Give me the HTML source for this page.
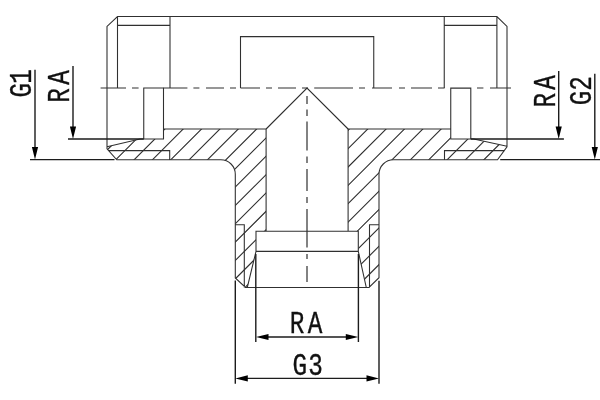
<!DOCTYPE html>
<html><head><meta charset="utf-8"><title>Drawing</title>
<style>
html,body{margin:0;padding:0;background:#fff;}
body{width:600px;height:400px;overflow:hidden;}
svg{display:block;}
text{font-family:"Liberation Mono","DejaVu Sans Mono",monospace;font-size:30.8px;fill:#111;stroke:#111;stroke-width:0.35px;}
</style></head><body>
<svg width="600" height="400" viewBox="0 0 600 400">
<rect width="600" height="400" fill="#fff"/>
<defs><clipPath id="hl"><path d="M107.0,146.7 L140,139.0 L163.5,139.0 L163.5,129.0 L266.1,129.0 L266.1,231.2 L256.0,231.2 L256.0,251.4 L247.3,287.5 L245.5,287.5 L235.3,278 L235.3,174.25 A14.5,14.5 0 0 0 220.8,159.75 L116.75,159.75 L107.0,148.8 Z"/></clipPath><clipPath id="hr"><path d="M507.0,146.2 L473.7,139.0 L450.75,139.0 L450.75,129.0 L348.1,129.0 L348.1,231.2 L358.3,231.2 L358.3,251.4 L366.3,287.5 L369,287.5 L379.0,277.7 L379.0,174.25 A14.5,14.5 0 0 1 393.5,159.75 L497.5,159.75 L507.0,146.8 Z"/></clipPath></defs>
<g fill="none" stroke="#303030" stroke-width="1.08">
<path clip-path="url(#hl)" d="M-61.21,300 L118.79,120 M-42.86,300 L137.14,120 M-24.50,300 L155.50,120 M-6.14,300 L173.86,120 M12.21,300 L192.21,120 M30.56,300 L210.56,120 M48.92,300 L228.92,120 M67.27,300 L247.27,120 M85.63,300 L265.63,120 M103.99,300 L283.99,120 M122.34,300 L302.34,120 M140.69,300 L320.69,120 M159.05,300 L339.05,120 M177.40,300 L357.40,120 M195.76,300 L375.76,120 M214.12,300 L394.12,120 M232.47,300 L412.47,120 M250.83,300 L430.83,120 M269.18,300 L449.18,120 M287.54,300 L467.54,120 M305.89,300 L485.89,120 M324.25,300 L504.25,120 M342.60,300 L522.60,120 M360.95,300 L540.95,120 M379.31,300 L559.31,120 M397.66,300 L577.66,120" stroke-width="1.1" stroke="#2e2e2e"/>
<path clip-path="url(#hr)" d="M-60.21,300 L119.79,120 M-41.86,300 L138.14,120 M-23.50,300 L156.50,120 M-5.14,300 L174.86,120 M13.21,300 L193.21,120 M31.56,300 L211.56,120 M49.92,300 L229.92,120 M68.27,300 L248.27,120 M86.63,300 L266.63,120 M104.99,300 L284.99,120 M123.34,300 L303.34,120 M141.69,300 L321.69,120 M160.05,300 L340.05,120 M178.40,300 L358.40,120 M196.76,300 L376.76,120 M215.12,300 L395.12,120 M233.47,300 L413.47,120 M251.83,300 L431.83,120 M270.18,300 L450.18,120 M288.54,300 L468.54,120 M306.89,300 L486.89,120 M325.25,300 L505.25,120 M343.60,300 L523.60,120 M361.95,300 L541.95,120 M380.31,300 L560.31,120 M398.66,300 L578.66,120" stroke-width="1.1" stroke="#2e2e2e"/>
<path d="M107.0,148.8 L107.0,26.4 L117.5,16.5 L496.9,16.5 L507.0,26.4 L507.0,146.8 M117.5,16.5 L117.5,88.0 M496.9,16.5 L496.9,88.0 M117.5,25.4 L170.0,25.4 M444.25,25.4 L496.9,25.4 M170.0,16.5 L170.0,88.0 M444.25,16.5 L444.25,88.0 M240.5,88.0 L240.5,36.6 L373.75,36.6 L373.75,88.0 M143.75,139.0 L143.75,88.0 L163.5,88.0 L163.5,129.0 M470.8,139.0 L470.8,88.15 L450.75,88.15 L450.75,129.0 M107.0,146.7 L140,139.0 L163.5,139.0 L163.5,129.0 L266.1,129.0 L266.1,231.2 L256.0,231.2 L256.0,251.4 L247.3,287.5 L245.5,287.5 L235.3,278 L235.3,174.25 A14.5,14.5 0 0 0 220.8,159.75 L116.75,159.75 L107.0,148.8 Z M507.0,146.2 L473.7,139.0 L450.75,139.0 L450.75,129.0 L348.1,129.0 L348.1,231.2 L358.3,231.2 L358.3,251.4 L366.3,287.5 L369,287.5 L379.0,277.7 L379.0,174.25 A14.5,14.5 0 0 1 393.5,159.75 L497.5,159.75 L507.0,146.8 Z M108.7,150.65 L169.7,150.65 L169.7,159.75 M504.8,150.65 L444.5,150.65 L444.5,159.75 M266.1,231.2 L348.1,231.2 M256.0,251.4 L358.3,251.4 M247.3,287.5 L366.3,287.5 M235.3,224.7 L244.3,224.7 L244.3,287.5 M379.0,224.7 L369.5,224.7 L369.5,287.5" stroke-linejoin="miter"/>
<path d="M266.1,129.0 L307.0,88.0 L348.1,129.0" stroke-width="1.1" stroke="#2e2e2e"/>
<path d="M100.6,88.0 L126,88.0 M132,88.0 L138.6,88.0 M163.5,88.0 L187.4,88.0 M193.4,88.0 L199.4,88.0 M206,88.0 L224,88.0 M230,88.0 L236,88.0 M240.5,88.0 L260,88.0 M266,88.0 L272,88.0 M278,88.0 L296,88.0 M302,88.0 L308,88.0 M314.2,88.0 L353,88.0 M359,88.0 L365,88.0 M372,88.0 L392,88.0 M399,88.0 L405,88.0 M411,88.0 L432,88.0 M438,88.0 L444.6,88.0 M477,88.0 L483.4,88.0 M490,88.0 L511,88.0" stroke-width="1.2"/>
<path d="M307.0,96 L307.0,104 M307.0,109.4 L307.0,116 M307.0,121.6 L307.0,150.6 M307.0,156.6 L307.0,163 M307.0,169 L307.0,191 M307.0,197 L307.0,203 M307.0,209 L307.0,247.4 M307.0,254 L307.0,259 M307.0,266 L307.0,282" stroke-width="1.2"/>
</g>
<g fill="none" stroke="#1c1c1c" stroke-width="1.4"><path d="M35,69.75 L35,150 M30,159.6 L114.5,159.6 M73,66 L73,130 M68,139 L143.75,139 M558.7,71 L558.7,130 M470.8,139 L563.9,139 M594.8,73.75 L594.8,150 M500.2,159.6 L600,159.6 M255.8,254 L255.8,342 M358.40000000000003,254 L358.40000000000003,342 M235.3,280.5 L235.3,383.8 M379.0,280.8 L379.0,383.8 M266,337 L348,337 M246,378.4 L368,378.4"/></g>
<path d="M35,159.4 L31.90,146.90 L38.10,146.90 Z M73,139 L69.90,126.50 L76.10,126.50 Z M558.7,139 L555.60,126.50 L561.80,126.50 Z M594.8,159.4 L591.70,146.90 L597.90,146.90 Z M256.0,337 L268.50,333.90 L268.50,340.10 Z M358.3,337 L345.80,340.10 L345.80,333.90 Z M235.3,378.4 L247.80,375.30 L247.80,381.50 Z M379.0,378.4 L366.50,381.50 L366.50,375.30 Z" fill="#000"/>
<g style="opacity:0.999">
<text transform="translate(30.75,97.5) rotate(-90) scale(0.79,1)" style="letter-spacing:-1px">G1</text>
<text transform="translate(69,102.75) rotate(-90) scale(0.79,1)" style="letter-spacing:4.2px">RA</text>
<text transform="translate(554.6,107.6) rotate(-90) scale(0.79,1)" style="letter-spacing:4.2px">RA</text>
<text transform="translate(590.6,105.2) rotate(-90) scale(0.79,1)" style="letter-spacing:-0.2px">G2</text>
<text transform="translate(289.85,332.5) scale(0.79,1)" style="letter-spacing:4.2px">RA</text>
<text transform="translate(292.5,374.5) scale(0.79,1)" style="letter-spacing:1.3px">G3</text>
</g>
</svg>
</body></html>
